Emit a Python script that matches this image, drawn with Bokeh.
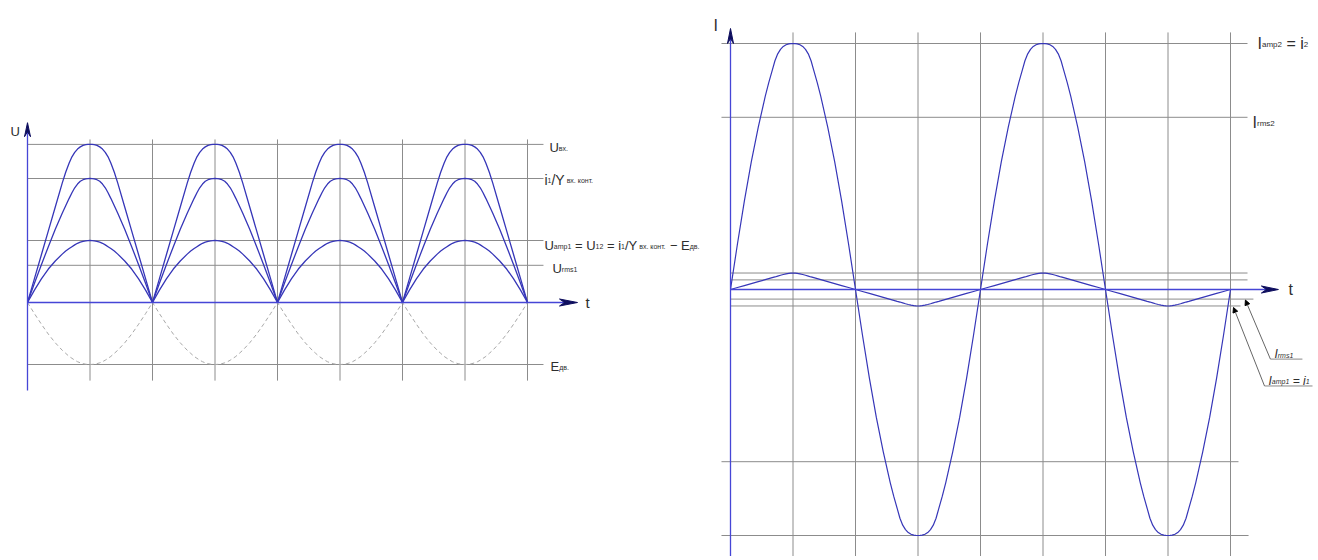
from bokeh.plotting import figure
from bokeh.layouts import row
from bokeh.models import Range1d, Arrow, NormalHead
from bokeh.core.properties import value
from bokeh.embed import file_html
from bokeh.resources import INLINE

# ---------------- data ----------------
# phase (degrees) of the sample points inside the rising quarter of a half-wave
phase_q = [0, 10, 20, 30, 40, 50, 55, 60, 64, 68, 72, 76, 80, 84, 87, 90]

# left panel (voltage)
u_in_q = [0, 0.385, 0.77, 1.155, 1.54, 1.925, 2.10, 2.25, 2.35, 2.42, 2.475, 2.51, 2.535, 2.545, 2.55, 2.55]
u_iy_q = [0, 0.31, 0.61, 0.90, 1.18, 1.44, 1.56, 1.68, 1.77, 1.85, 1.91, 1.955, 1.98, 1.993, 1.998, 2.0]
u_amp1_q = [0, 0.20, 0.38, 0.54, 0.67, 0.78, 0.83, 0.87, 0.90, 0.93, 0.955, 0.973, 0.986, 0.995, 0.998, 1.0]
e_dv_q = [0, -0.18, -0.35, -0.51, -0.65, -0.77, -0.82, -0.87, -0.90, -0.93, -0.955, -0.973, -0.986, -0.995, -0.998, -1.0]
u_signs = [1, 1, 1, 1]
u_levels = [2.55, 2.0, 1.0, 0.6, -1.0]          # Uвх, i1/Y, Uamp1, Urms1, Eдв
u_grid_t = [90, 180, 270, 360, 450, 540, 630, 720]

# right panel (current)
i2_q = [0, 1.85, 3.6, 5.2, 6.6, 7.85, 8.4, 8.9, 9.3, 9.58, 9.76, 9.88, 9.95, 9.985, 9.997, 10.0]
i1_q = [0, 0.08, 0.16, 0.24, 0.32, 0.40, 0.44, 0.48, 0.51, 0.545, 0.58, 0.61, 0.635, 0.655, 0.665, 0.67]
i_signs = [1, -1, 1, -1]
i_big_levels = [10.0, 7.0, -7.0, -10.0]        # Iamp2, Irms2, -Irms2, -Iamp2
i_small_levels = [0.67, 0.39, -0.39, -0.67]    # Iamp1, Irms1, -Irms1, -Iamp1
i_grid_t = [90, 180, 270, 360, 450, 540, 630, 720]

# label texts: (text, is_subscript); surrounding spaces only set the spacing
lbl_u_in = [("U", 0), ("вх.", 1)]
lbl_u_iy = [("i", 0), ("1", 1), ("/", 0), ("Y", 0), (" вх. конт.", 1)]
lbl_u_amp = [("U", 0), ("amp1", 1), (" = ", 0), ("U", 0), ("12", 1), (" = ", 0),
             ("i", 0), ("1", 1), ("/", 0), ("Y", 0), (" вх. конт.", 1),
             (" \u2212 ", 0), ("E", 0), ("дв.", 1)]
lbl_u_rms = [("U", 0), ("rms1", 1)]
lbl_e_dv = [("E", 0), ("дв.", 1)]
lbl_i_amp2 = [("I", 0), ("amp2", 1), (" = ", 0), ("i", 0), ("2", 1)]
lbl_i_rms2 = [("I", 0), ("rms2", 1)]
lbl_i_rms1 = [("I", 0), ("rms1", 1)]
lbl_i_amp1 = [("I", 0), ("amp1", 1), (" = ", 0), ("i", 0), ("1", 1)]

# ---------------- styles / geometry ----------------
FONT = "Liberation Sans"
CURVE = "#3636b8"
AXIS = "#4646d6"
HEAD = "#0e0e5e"
GRID = "#8c8c8c"
DASH = "#a8a8a8"
TXT = "#2e2e2e"
H = 556
WL, WR = 706, 610
XS = 125 / 180.0          # px per degree (both panels)
YS_L, YS_R = 62.0, 24.6   # px per unit
OXL, OYL = 27, 302        # pixel position of origin inside left figure
OXR, OYR = 24, 289        # pixel position of origin inside right figure

# approximate advance widths (em) of Liberation Sans, used to chain label pieces
ADV = {'U': .722, 'E': .667, 'I': .278, 'Y': .667, 'i': .222, 't': .278, 'a': .556,
       'm': .833, 'p': .556, 'r': .333, 's': .5, '1': .556, '2': .556, '=': .584,
       '\u2212': .584, '/': .278, '.': .278, ' ': .278, 'в': .531, 'х': .5, 'к': .438,
       'о': .556, 'н': .552, 'т': .458, 'д': .573}


def build(q, signs):
    xs, ys = [], []
    for k, s in enumerate(signs):
        base = 180 * k
        for ph, v in zip(phase_q, q):
            xs.append(base + ph)
            ys.append(s * v)
        for ph, v in zip(phase_q[::-1][1:], q[::-1][1:]):
            xs.append(base + 180 - ph)
            ys.append(s * v)
    return xs, ys


def make_fig(w, ox, oy, ys):
    p = figure(width=w, height=H, output_backend="svg", toolbar_location=None,
               x_range=Range1d(-ox / XS, (w - ox) / XS),
               y_range=Range1d(-(H - oy) / ys, oy / ys),
               x_axis_type=None, y_axis_type=None, min_border=0)
    p.grid.visible = False
    p.outline_line_color = None
    p.background_fill_color = "white"
    p.border_fill_color = "white"
    return p


def head(p, ys, tx, ty, direction, length=17, half=3.5, notch=5):
    if direction == "right":
        xs = [tx, tx - length / XS, tx - (length - notch) / XS, tx - length / XS]
        yy = [ty, ty + half / ys, ty, ty - half / ys]
    else:
        xs = [tx, tx + half / XS, tx, tx - half / XS]
        yy = [ty, ty - length / ys, ty - (length - notch) / ys, ty - length / ys]
    p.patch(xs, yy, fill_color=HEAD, line_color=HEAD, line_width=1)


def label(p, x, y, segs, size_main, size_sub, dx0, dy, italic=False):
    dx = dx0
    for text, sub in segs:
        size = size_sub if sub else size_main
        lead = (len(text) - len(text.lstrip())) * ADV[' '] * size
        p.text(x=[x], y=[y], text=[text.strip()], x_offset=dx + lead,
               y_offset=dy + (1 if sub else 0),
               text_font=value(FONT), text_font_size=f"{size}px",
               text_font_style="italic" if italic else "normal",
               text_baseline="alphabetic", text_align="left", text_color=TXT)
        dx += sum(ADV.get(c, .55) for c in text) * size


# ================= left panel =================
pL = make_fig(WL, OXL, OYL, YS_L)
T_END_L = 743
pL.segment(x0=[0] * len(u_levels), y0=u_levels, x1=[T_END_L] * len(u_levels), y1=u_levels,
           line_color=GRID, line_width=1)
pL.segment(x0=u_grid_t, y0=[-1.26] * len(u_grid_t), x1=u_grid_t, y1=[2.63] * len(u_grid_t),
           line_color=GRID, line_width=1)

x, y = build(e_dv_q, u_signs)
pL.line(x, y, line_color=DASH, line_width=1, line_dash="4 3")
for q in (u_in_q, u_iy_q, u_amp1_q):
    x, y = build(q, u_signs)
    pL.line(x, y, line_color=CURVE, line_width=1.3)

# axes
pL.line([0, 0], [-1.42, 2.75], line_color=AXIS, line_width=1.3)
pL.line([0, 780], [0, 0], line_color=AXIS, line_width=1.6)
head(pL, YS_L, 0, 2.90, "up", length=14, half=3)
head(pL, YS_L, 792, 0, "right", length=18, half=3.5)
pL.text(x=[-24.5], y=[2.76], text=["U"], text_font=value(FONT), text_font_size="13px",
        text_baseline="alphabetic", text_color=TXT)
pL.text(x=[803.5], y=[0], text=["t"], text_font=value(FONT), text_font_size="15px",
        text_baseline="middle", text_color=TXT)

label(pL, T_END_L, u_levels[0], lbl_u_in, 13, 7, 6, 3)
label(pL, T_END_L, u_levels[1], lbl_u_iy, 14, 7, 1, 1)
label(pL, T_END_L, u_levels[2], lbl_u_amp, 13, 7, 1, 5)
label(pL, T_END_L, u_levels[3], lbl_u_rms, 13, 7, 9, 3)
label(pL, T_END_L, u_levels[4], lbl_e_dv, 13, 7, 7, 2)

# ================= right panel =================
pR = make_fig(WR, OXR, OYR, YS_R)
big_ends = [744.5, 744.5, 731.5, 746]
pR.segment(x0=[-13] * 4, y0=i_big_levels, x1=big_ends, y1=i_big_levels,
           line_color=GRID, line_width=1)
small_ends = [744.5, 744.5, 753, 734.4]
pR.segment(x0=[0] * 4, y0=i_small_levels, x1=small_ends, y1=i_small_levels,
           line_color=GRID, line_width=1)
pR.segment(x0=i_grid_t, y0=[-11.5] * len(i_grid_t), x1=i_grid_t, y1=[10.45] * len(i_grid_t),
           line_color=GRID, line_width=1)

for q in (i2_q, i1_q):
    x, y = build(q, i_signs)
    pR.line(x, y, line_color=CURVE, line_width=1.2)

pR.line([0, 0], [-11.5, 10.3], line_color=AXIS, line_width=1.3)
pR.line([0, 775], [0, 0], line_color=AXIS, line_width=1.6)
head(pR, YS_R, 0, 10.61, "up", length=15, half=3)
head(pR, YS_R, 789, 0, "right", length=17, half=3.5)
pR.text(x=[-24.5], y=[10.73], text=["I"], text_font=value(FONT), text_font_size="16px",
        text_baseline="alphabetic", text_color=TXT)
pR.text(x=[803.5], y=[0], text=["t"], text_font=value(FONT), text_font_size="16px",
        text_baseline="middle", text_color=TXT)

label(pR, 744.5, i_big_levels[0], lbl_i_amp2, 16, 8, 10, 0)
label(pR, 744.5, i_big_levels[1], lbl_i_rms2, 16, 8, 5, 5)


# leader lines for the small levels
def px(x0, dx):
    return x0 + dx / XS


def py(y0, dy):
    return y0 - dy / YS_R


ax, ay = 753, i_small_levels[2]
pR.add_layout(Arrow(x_start=px(ax, 17), y_start=py(ay, 60), x_end=px(ax, -8), y_end=py(ay, 1),
                    line_color="#666666", line_width=1,
                    end=NormalHead(size=5, fill_color="black", line_color="black")))
pR.line([px(ax, 17), px(ax, 49)], [py(ay, 60), py(ay, 60)], line_color="#888888", line_width=1)
label(pR, ax, ay, lbl_i_rms1, 12, 7, 21, 55, italic=True)

bx, by = 734.4, i_small_levels[3]
pR.add_layout(Arrow(x_start=px(bx, 24), y_start=py(by, 80), x_end=px(bx, -7), y_end=py(by, 1.5),
                    line_color="#666666", line_width=1,
                    end=NormalHead(size=5, fill_color="black", line_color="black")))
pR.line([px(bx, 24), px(bx, 72)], [py(by, 80), py(by, 80)], line_color="#888888", line_width=1)
label(pR, bx, by, lbl_i_amp1, 12, 7, 28, 75, italic=True)

layout = row(pL, pR)
open("out.html", "w").write(file_html(layout, INLINE))
